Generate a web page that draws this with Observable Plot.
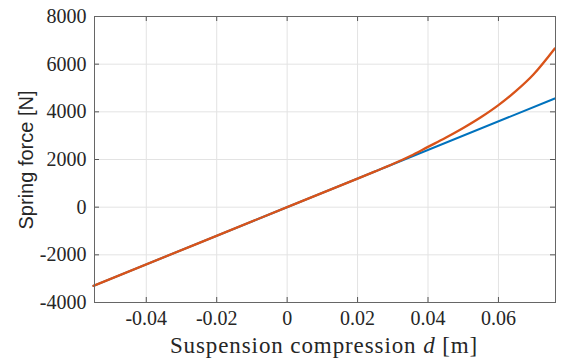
<!DOCTYPE html>
<html>
<head>
<meta charset="utf-8">
<script src="https://cdn.jsdelivr.net/npm/d3@7"></script>
<script src="https://cdn.jsdelivr.net/npm/@observablehq/plot@0.6"></script>
<style>
  html, body { margin: 0; padding: 0; background: #fff; }
  #chart svg text { font-family: "Liberation Serif", "Times New Roman", serif !important; }
  #chart svg text.ylab { font-family: "Liberation Sans", Arial, sans-serif !important; }
</style>
</head>
<body>
<div id="chart"></div>
<script>
// Linear spring model
const linearD = [-0.055, 0.076];
const linearF = [-3300, 4560];
// Progressive spring model
const progD = [-0.055, 0, 0.02, 0.025, 0.03, 0.035, 0.04, 0.045, 0.05, 0.055, 0.06, 0.065, 0.07, 0.076];
const progF = [-3300, 0, 1200, 1500, 1810, 2150, 2530, 2910, 3320, 3770, 4280, 4880, 5580, 6660];
const xTicks = [-0.04, -0.02, 0, 0.02, 0.04, 0.06];
const yTicks = [-4000, -2000, 0, 2000, 4000, 6000, 8000];

const linear = linearD.map((d, i) => ({d, f: linearF[i]}));
const prog = progD.map((d, i) => ({d, f: progF[i]}));

const W = 570, H = 362;
const mL = 94, mR = 15, mT = 16, mB = 60;
const fw = W - mL - mR, fh = H - mT - mB;
const tick = 5;

const plot = Plot.plot({
  width: W,
  height: H,
  marginLeft: mL,
  marginRight: mR,
  marginTop: mT,
  marginBottom: mB,
  style: {background: "#fff", color: "#262626"},
  x: {domain: [-0.0547, 0.0762]},
  y: {domain: [-4000, 8000]},
  marks: [
    Plot.gridX(xTicks, {stroke: "#e3e3e3", strokeOpacity: 1, strokeWidth: 1}),
    Plot.gridY(yTicks, {stroke: "#e3e3e3", strokeOpacity: 1, strokeWidth: 1}),
    Plot.line(linear, {x: "d", y: "f", stroke: "#0072BD", strokeWidth: 2}),
    Plot.line(prog, {x: "d", y: "f", stroke: "#D95319", strokeWidth: 2.3, curve: "catmull-rom"}),
    // inward ticks (bottom, top, left, right)
    Plot.tickX(xTicks, {x: d => d, insetTop: fh - tick, stroke: "#555"}),
    Plot.tickX(xTicks, {x: d => d, insetBottom: fh - tick, stroke: "#555"}),
    Plot.tickY(yTicks, {y: d => d, insetRight: fw - tick, stroke: "#555"}),
    Plot.tickY(yTicks, {y: d => d, insetLeft: fw - tick, stroke: "#555"}),
    Plot.frame({stroke: "#666", strokeWidth: 1}),
    Plot.axisX(xTicks, {tickSize: 0, tickPadding: 8, fontSize: 20, fill: "#262626",
      tickFormat: d => d === 0 ? "0" : d.toFixed(2), label: null}),
    Plot.axisY(yTicks, {tickSize: 0, tickPadding: 8, fontSize: 20, fill: "#262626",
      tickFormat: d => String(d), label: null})
  ]
});

const svg = d3.select(plot);
svg.append("text")
  .attr("class", "ylab")
  .attr("transform", `translate(33,160) rotate(-90)`)
  .attr("text-anchor", "middle")
  .attr("font-size", 20)
  .attr("fill", "#262626")
  .text("Spring force [N]");
const xl = svg.append("text")
  .attr("x", 324)
  .attr("y", 353)
  .attr("text-anchor", "middle")
  .attr("font-size", 23)
  .attr("letter-spacing", 0.9)
  .attr("fill", "#262626");
xl.append("tspan").text("Suspension compression ");
xl.append("tspan").attr("font-style", "italic").text("d");
xl.append("tspan").text(" [m]");

document.getElementById("chart").appendChild(plot);
</script>
</body>
</html>
